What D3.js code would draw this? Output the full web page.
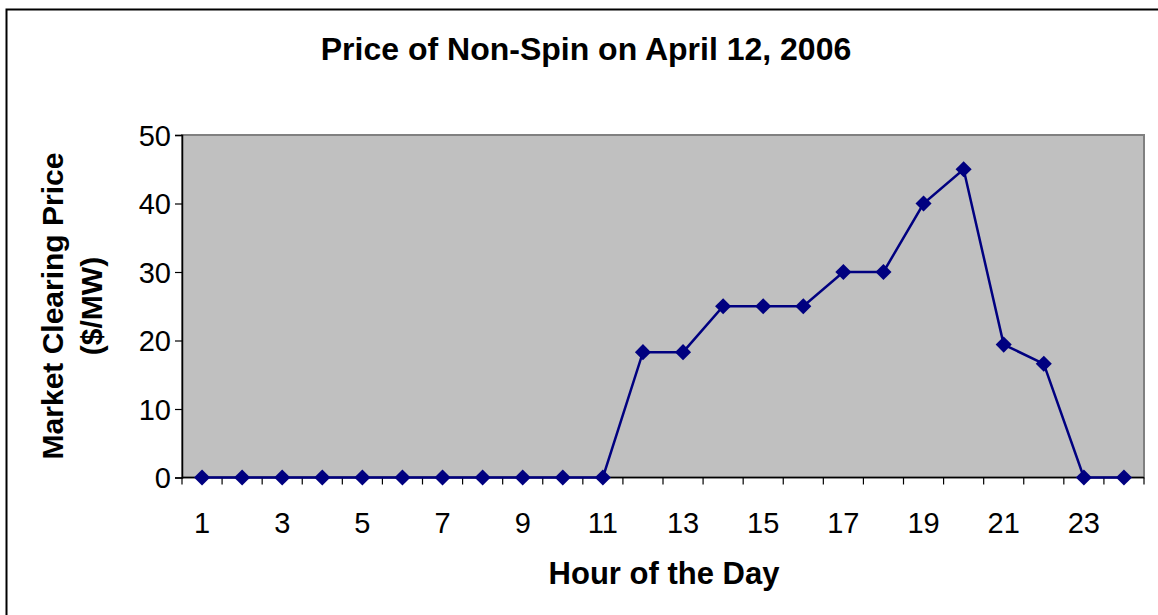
<!DOCTYPE html>
<html>
<head>
<meta charset="utf-8">
<script src="https://cdn.jsdelivr.net/npm/d3@7"></script>
<style>
  body { margin: 0; background: #fff; }
  text { font-family: "Liberation Sans", Arial, sans-serif; fill: #000; }
</style>
</head>
<body>
<svg id="chart"></svg>
<script>
// --- Dados ---
const hours = d3.range(1, 25);
const prices = [0, 0, 0, 0, 0, 0, 0, 0, 0, 0, 0, 18.3, 18.3, 25, 25, 25, 30, 30, 40, 45, 19.4, 16.6, 0, 0];
const yTicks = [0, 10, 20, 30, 40, 50];
const xLabels = [1, 3, 5, 7, 9, 11, 13, 15, 17, 19, 21, 23];

const W = 1158, H = 615;
const plot = { left: 182, top: 135, right: 1144, bottom: 477.5 };

const svg = d3.select("#chart").attr("width", W).attr("height", H);

// Borda externa
svg.append("rect")
    .attr("x", 6.5).attr("y", 9.5)
    .attr("width", W).attr("height", H)
    .attr("fill", "#fff").attr("stroke", "#000").attr("stroke-width", 2);

// --- Escalas ---
const x = d3.scaleBand().domain(hours).range([plot.left, plot.right]).padding(0);
const y = d3.scaleLinear().domain([0, 50]).range([plot.bottom, plot.top]);

// Área do gráfico
svg.append("rect")
    .attr("x", plot.left).attr("y", plot.top)
    .attr("width", plot.right - plot.left).attr("height", plot.bottom - plot.top)
    .attr("fill", "#c0c0c0").attr("stroke", "#808080").attr("stroke-width", 2);

// --- Eixos ---
const yAxis = svg.append("g")
    .attr("transform", `translate(${plot.left},0)`)
    .call(d3.axisLeft(y).tickValues(yTicks).tickSize(7).tickPadding(4));
yAxis.select(".domain").attr("stroke", "#000").attr("stroke-width", 1.5);
yAxis.selectAll(".tick line").attr("stroke", "#000").attr("stroke-width", 1.2);
yAxis.selectAll("text")
    .attr("dy", "0.35em")
    .style("font-size", "29px")
    .style("font-family", "'Liberation Sans', Arial, sans-serif");

// eixo x: marcas nas fronteiras das categorias
const xAxis = svg.append("g");
xAxis.append("line")
    .attr("x1", plot.left).attr("x2", plot.right)
    .attr("y1", plot.bottom).attr("y2", plot.bottom)
    .attr("stroke", "#000").attr("stroke-width", 1.5);
xAxis.selectAll(".xtick")
    .data(hours.concat([25]))
    .enter().append("line")
    .attr("x1", d => d <= 24 ? x(d) : plot.right)
    .attr("x2", d => d <= 24 ? x(d) : plot.right)
    .attr("y1", plot.bottom).attr("y2", plot.bottom + 7)
    .attr("stroke", "#000").attr("stroke-width", 1.2);
xAxis.selectAll(".xlabel")
    .data(xLabels)
    .enter().append("text")
    .attr("x", d => x(d) + x.bandwidth() / 2)
    .attr("y", 533)
    .attr("text-anchor", "middle")
    .style("font-size", "29px")
    .text(d => d);

// --- Linha e marcadores ---
const line = d3.line()
    .x((d, i) => x(hours[i]) + x.bandwidth() / 2)
    .y(d => y(d));

svg.append("path")
    .datum(prices)
    .attr("d", line)
    .attr("fill", "none")
    .attr("stroke", "#000080")
    .attr("stroke-width", 2.5);

svg.selectAll(".marker")
    .data(prices)
    .enter().append("path")
    .attr("class", "marker")
    .attr("d", d3.symbol(d3.symbolDiamond2, 165))
    .attr("transform", (d, i) => `translate(${x(hours[i]) + x.bandwidth() / 2},${y(d)})`)
    .attr("fill", "#000080");

// --- Títulos ---
svg.append("text")
    .attr("x", 586).attr("y", 60)
    .attr("text-anchor", "middle")
    .style("font-size", "32px").style("font-weight", "bold")
    .text("Price of Non-Spin on April 12, 2006");

svg.append("text")
    .attr("x", 664).attr("y", 584)
    .attr("text-anchor", "middle")
    .style("font-size", "31px").style("font-weight", "bold")
    .text("Hour of the Day");

const yTitle = svg.append("text")
    .attr("transform", "translate(0,306) rotate(-90)")
    .attr("text-anchor", "middle")
    .style("font-size", "30px").style("font-weight", "bold");
yTitle.append("tspan").attr("x", 0).attr("y", 63).text("Market Clearing Price");
yTitle.append("tspan").attr("x", 0).attr("y", 102).text("($/MW)");
</script>
</body>
</html>
